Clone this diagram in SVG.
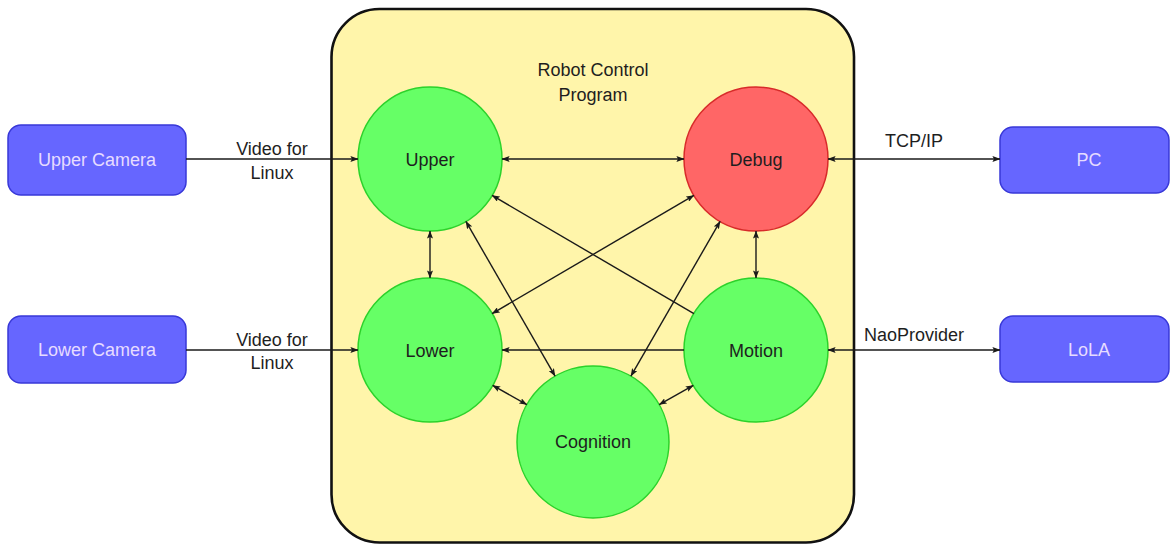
<svg xmlns="http://www.w3.org/2000/svg" width="1170" height="544" viewBox="0 0 1170 544">
  <defs>
    <marker id="tip" viewBox="0 0 8 6" refX="7.6" refY="3" markerWidth="8" markerHeight="6" markerUnits="userSpaceOnUse" orient="auto-start-reverse">
      <path d="M0,0 L8,3 L0,6 L1.6,3 Z" fill="#1a1a1a"/>
    </marker>
    <style>
      .ext rect { fill: #6666ff; stroke: #3838d8; stroke-width: 1.5; }
      .ext text { fill: #e6dcff; font-family: "Liberation Sans", Arial, sans-serif; font-size: 18px; text-anchor: middle; }
      .proc circle { fill: #66ff66; stroke: #2bd22b; stroke-width: 1.5; }
      .proc.red circle { fill: #ff6666; stroke: #d82a2a; }
      .lbl { fill: #1e1e1e; font-family: "Liberation Sans", Arial, sans-serif; font-size: 18px; text-anchor: middle; }
      .edge { stroke: #1a1a1a; stroke-width: 1.4; fill: none; }
      .one { marker-end: url(#tip); }
      .two { marker-start: url(#tip); marker-end: url(#tip); }
    </style>
  </defs>

  <rect width="1170" height="544" fill="#ffffff"/>

  <!-- program container -->
  <g id="program">
    <rect x="331.5" y="9" width="522.5" height="533.5" rx="48" ry="48" fill="#fff5aa" stroke="#111111" stroke-width="2.6"/>
    <text class="lbl" x="593" y="76">Robot Control</text>
    <text class="lbl" x="593" y="101">Program</text>
  </g>

  <!-- external components -->
  <g id="upper-camera" class="ext">
    <rect x="8" y="125" width="178" height="70" rx="13" ry="13"/>
    <text x="97" y="166">Upper Camera</text>
  </g>
  <g id="lower-camera" class="ext">
    <rect x="8" y="316" width="178" height="67" rx="13" ry="13"/>
    <text x="97" y="356">Lower Camera</text>
  </g>
  <g id="pc" class="ext">
    <rect x="1000" y="127" width="169" height="66" rx="13" ry="13"/>
    <text x="1089" y="166">PC</text>
  </g>
  <g id="lola" class="ext">
    <rect x="1000" y="316" width="169" height="66" rx="13" ry="13"/>
    <text x="1089" y="356">LoLA</text>
  </g>

  <!-- threads -->
  <g id="upper" class="proc">
    <circle cx="430" cy="159" r="72"/>
    <text class="lbl" x="430" y="166">Upper</text>
  </g>
  <g id="debug" class="proc red">
    <circle cx="756" cy="159" r="72"/>
    <text class="lbl" x="756" y="166">Debug</text>
  </g>
  <g id="lower" class="proc">
    <circle cx="430" cy="350" r="72"/>
    <text class="lbl" x="430" y="357">Lower</text>
  </g>
  <g id="motion" class="proc">
    <circle cx="756" cy="350" r="72"/>
    <text class="lbl" x="756" y="357">Motion</text>
  </g>
  <g id="cognition" class="proc">
    <circle cx="593" cy="442" r="76"/>
    <text class="lbl" x="593" y="448">Cognition</text>
  </g>

  <!-- connectors -->
  <g id="connectors">
    <line class="edge one" x1="186" y1="159" x2="358" y2="159"/>
    <line class="edge one" x1="186" y1="350" x2="358" y2="350"/>
    <line class="edge two" x1="828" y1="159" x2="1000" y2="159"/>
    <line class="edge two" x1="828" y1="350" x2="1000" y2="350"/>

    <line class="edge two" x1="502" y1="159" x2="684" y2="159"/>
    <line class="edge one" x1="684" y1="350" x2="502" y2="350"/>
    <line class="edge two" x1="430" y1="231" x2="430" y2="278"/>
    <line class="edge two" x1="756" y1="231" x2="756" y2="278"/>

    <line class="edge one" x1="693.9" y1="313.6" x2="492.1" y2="195.4"/>
    <line class="edge two" x1="693.9" y1="195.4" x2="492.1" y2="313.6"/>
    <line class="edge two" x1="465.9" y1="221.4" x2="555.1" y2="376.1"/>
    <line class="edge two" x1="720.1" y1="221.4" x2="630.9" y2="376.1"/>
    <line class="edge two" x1="492.7" y1="385.4" x2="526.8" y2="404.6"/>
    <line class="edge two" x1="693.3" y1="385.4" x2="659.2" y2="404.6"/>

    <text class="lbl" x="272" y="155">Video for</text>
    <text class="lbl" x="272" y="179">Linux</text>
    <text class="lbl" x="272" y="346">Video for</text>
    <text class="lbl" x="272" y="369">Linux</text>
    <text class="lbl" x="914" y="147">TCP/IP</text>
    <text class="lbl" x="914" y="341">NaoProvider</text>
  </g>
</svg>
